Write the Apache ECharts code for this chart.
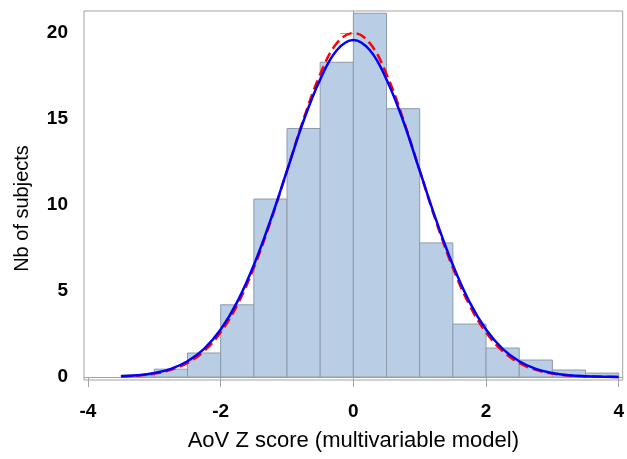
<!DOCTYPE html>
<html>
<head>
<meta charset="utf-8">
<script src="https://cdn.jsdelivr.net/npm/echarts@6/dist/echarts.min.js"></script>
<style>
  html, body { margin: 0; padding: 0; background: #fff; }
  #chart { width: 627px; height: 459px; }
</style>
</head>
<body>
<div id="chart"></div>
<script>
// histogram bins (width 0.5) and heights
var binStart = [-3.5, -3, -2.5, -2, -1.5, -1, -0.5, 0, 0.5, 1, 1.5, 2, 2.5, 3, 3.5];
var binCount = [0.12, 0.46, 1.4, 4.2, 10.35, 14.45, 18.3, 21.15, 15.6, 7.8, 3.08, 1.69, 0.99, 0.41, 0.23];

// fitted curves, sampled every 0.25
var curveX = [-3.5, -3.25, -3, -2.75, -2.5, -2.25, -2, -1.75, -1.5, -1.25, -1, -0.75, -0.5, -0.25, 0,
              0.25, 0.5, 0.75, 1, 1.25, 1.5, 1.75, 2, 2.25, 2.5, 2.75, 3, 3.25, 3.5, 3.75, 4];
var blueY = [0.05, 0.11, 0.24, 0.48, 0.92, 1.64, 2.76, 4.37, 6.51, 9.11, 12.0, 14.9, 17.3, 19.0, 19.6,
             19.0, 17.3, 14.9, 12.0, 9.11, 6.51, 4.37, 2.76, 1.64, 0.92, 0.48, 0.24, 0.11, 0.05, 0.02, 0.01];
var redY = [0.04, 0.09, 0.20, 0.42, 0.82, 1.51, 2.60, 4.19, 6.35, 9.01, 12.0, 15.0, 17.6, 19.4, 20.0,
            19.4, 17.6, 15.0, 12.0, 9.01, 6.35, 4.19, 2.60, 1.51, 0.82, 0.42, 0.20, 0.09, 0.04, 0.02, 0.01];

var xTicks = [-4, -2, 0, 2, 4];
var yTicks = [0, 5, 10, 15, 20];

var binData = [];
for (var i = 0; i < binStart.length; i++) {
    binData.push([binStart[i], binStart[i] + 0.5, binCount[i]]);
}
var blueData = [], redData = [];
for (var j = 0; j < curveX.length; j++) {
    blueData.push([curveX[j], blueY[j]]);
    redData.push([curveX[j], redY[j]]);
}

var tickFont = '"Liberation Sans", Arial, sans-serif';
var titleFont = '"Liberation Sans", Arial, sans-serif';

var myChart = echarts.init(document.getElementById('chart'));
var option = {
    animation: false,
    grid: {
        left: 84, right: 1, top: 11, bottom: 79,
        show: true, borderColor: '#a3a3a3', borderWidth: 1
    },
    xAxis: {
        type: 'value',
        min: -4.06,
        max: 4.06,
        name: 'AoV Z score (multivariable model)',
        nameLocation: 'middle',
        nameGap: 50,
        nameTextStyle: { fontFamily: titleFont, fontSize: 22, color: '#000' },
        axisLine: { lineStyle: { color: '#a3a3a3' } },
        axisTick: { customValues: xTicks, length: 10, lineStyle: { color: '#a3a3a3' } },
        axisLabel: {
            customValues: xTicks, margin: 22,
            fontFamily: tickFont, fontWeight: 'bold', fontSize: 19, color: '#000'
        },
        splitLine: { show: false }
    },
    yAxis: {
        type: 'value',
        min: -0.17,
        max: 21.28,
        name: 'Nb of subjects',
        nameLocation: 'middle',
        nameGap: 52,
        nameTextStyle: { fontFamily: titleFont, fontSize: 20, color: '#000', padding: [0, 26, 0, 0] },
        axisLine: { show: true, lineStyle: { color: '#a3a3a3' } },
        axisTick: { show: true, customValues: yTicks, length: 13, lineStyle: { color: '#a3a3a3' } },
        axisLabel: {
            customValues: yTicks, margin: 16,
            fontFamily: tickFont, fontWeight: 'bold', fontSize: 19, color: '#000'
        },
        splitLine: { show: false }
    },
    series: [
        {
            type: 'custom',
            data: binData,
            encode: { x: [0, 1], y: 2 },
            renderItem: function (params, api) {
                var p0 = api.coord([api.value(0), api.value(2)]);
                var p1 = api.coord([api.value(1), 0]);
                return {
                    type: 'rect',
                    shape: { x: p0[0], y: p0[1], width: p1[0] - p0[0], height: p1[1] - p0[1] },
                    style: { fill: '#b9cde5', stroke: '#8e9bab', lineWidth: 1 }
                };
            }
        },
        {
            type: 'line',
            data: redData,
            smooth: 0.4,
            symbol: 'none',
            lineStyle: { color: '#ff0000', width: 2.5, type: [10, 5] },
            z: 3
        },
        {
            type: 'line',
            data: blueData,
            smooth: 0.4,
            symbol: 'none',
            lineStyle: { color: '#0000ff', width: 2.5 },
            z: 4
        }
    ]
};
myChart.setOption(option);
</script>
</body>
</html>
